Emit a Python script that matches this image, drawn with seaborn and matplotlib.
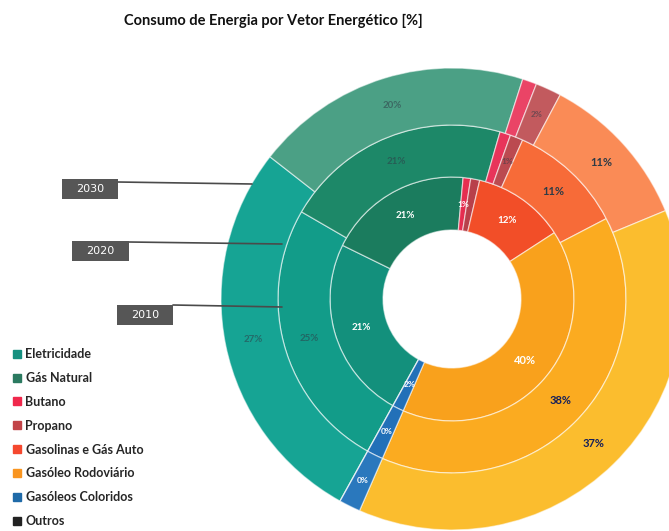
import numpy as np
import matplotlib.pyplot as plt
import seaborn as sns
from matplotlib.lines import Line2D
from matplotlib.patches import Rectangle

sns.set_theme(style="white")
plt.rcParams['font.family'] = ['Lato', 'DejaVu Sans']

# vetores energeticos (ordem da legenda, sentido horario no grafico)
vetores = ["Eletricidade", "Gás Natural", "Butano", "Propano",
           "Gasolinas e Gás Auto", "Gasóleo Rodoviário", "Gasóleos Coloridos", "Outros"]
anos = ["2010", "2020", "2030"]

# percentagens
v2010 = [24.2, 19.2, 1.0, 1.2, 12.2, 40.7, 1.5, 0.0]
v2020 = [25.3, 21.1, 1.0, 1.2, 10.7, 39.2, 1.5, 0.0]
v2030 = [27.5, 19.4, 1.0, 1.8, 11.0, 37.8, 1.5, 0.0]

# rotulos tal como aparecem (as fatias muito finas so tem um rotulo visivel)
rot2010 = ["21%", "21%", "1%", "", "12%", "40%", "2%", ""]
rot2020 = ["25%", "21%", "", "1%", "11%", "38%", "0%", ""]
rot2030 = ["27%", "20%", "", "2%", "11%", "37%", "0%", ""]

# cores
cores_legenda = ["#169080", "#2b7a60", "#f0284c", "#c24448",
                 "#f5482e", "#f99520", "#1f6aa8", "#222222"]
cores2010 = ["#13907c", "#1b7c5e", "#e52e50", "#b8404a", "#f24e28", "#f9a11c", "#2270b8", "#222222"]
cores2020 = ["#129c89", "#1d8868", "#e8345a", "#bb4a50", "#f76b38", "#fbab20", "#2270b8", "#222222"]
cores2030 = ["#16a494", "#4ba085", "#ea4466", "#c25a5e", "#fa8b56", "#fbbd2e", "#2a78bd", "#222222"]

W, H = 669, 531
cx, cy = 452, 299  # centro do anel, em pixeis

fig = plt.figure(figsize=(W / 100, H / 100), dpi=100)
ax = fig.add_axes([0, 0, 1, 1])

aneis = [
    (v2010, rot2010, cores2010, 122, 53, "white"),
    (v2020, rot2020, cores2020, 174, 52, "#2f3b46"),
    (v2030, rot2030, cores2030, 231, 57, "#2f3b46"),
]

for vals, rots, cores, raio, larg, cor_txt in aneis:
    wedges, _ = ax.pie(vals, radius=raio, colors=cores, startangle=241,
                       counterclock=False,
                       wedgeprops=dict(width=larg, edgecolor=(1, 1, 1, 0.55), linewidth=0.9))
    for i, (w, rot, v) in enumerate(zip(wedges, rots, vals)):
        if not rot:
            continue
        ang = np.deg2rad((w.theta1 + w.theta2) / 2)
        r = raio - larg / 2
        grande = v > 30 or (v > 10 and v < 13 and cor_txt != "white")
        if cor_txt != "white" and v > 30:
            c = "#16205a"
        elif vetores[i] == "Gasóleos Coloridos":
            c = "white"
        else:
            c = cor_txt
        alpha = 1.0 if (grande or c == "white") else 0.55
        ax.text(r * np.cos(ang), r * np.sin(ang), rot, ha="center", va="center",
                fontsize=8 if grande else (6 if v < 3 else 7),
                fontweight="bold", color=c, alpha=alpha)

ax.set_xlim(-cx, W - cx)
ax.set_ylim(-(H - cy), cy)
ax.set_aspect("equal")
ax.axis("off")

# caixas com os anos (x0, y0, x1, y1 em pixeis) e linhas de ligacao
caixas = {"2030": ((62, 179, 118, 199), (118, 182, 252, 184)),
          "2020": ((72, 241, 129, 261), (129, 242, 282, 244)),
          "2010": ((117, 305, 173, 325), (173, 305, 282, 307))}
for ano in anos:
    (bx0, by0, bx1, by1), (x0, y0, x1, y1) = caixas[ano]
    ax.plot([x0 - cx, x1 - cx], [cy - y0, cy - y1], color="#4a4a4a", lw=1.2)
    ax.add_patch(Rectangle((bx0 - cx, cy - by1), bx1 - bx0, by1 - by0,
                           fc="#565656", ec="none", zorder=3))
    ax.text((bx0 + bx1) / 2 - cx, cy - (by0 + by1) / 2, ano, ha="center", va="center",
            color="white", fontsize=8, family="DejaVu Sans", zorder=4)

# legenda
handles = [Line2D([], [], marker="s", ls="", color=c, markersize=6) for c in cores_legenda]
fig.legend(handles, vetores, loc="upper left", bbox_to_anchor=(8 / W, 1 - 343 / H),
           frameon=False, handlelength=0.7, handletextpad=0.3, labelspacing=0.95,
           borderaxespad=0, prop=dict(weight="bold", size=9))

fig.text(273 / W, 1 - 21 / H, "Consumo de Energia por Vetor Energético [%]",
         ha="center", va="center", fontsize=10.5, fontweight="bold", color="#111111")

fig.savefig("out.png", dpi=100)
